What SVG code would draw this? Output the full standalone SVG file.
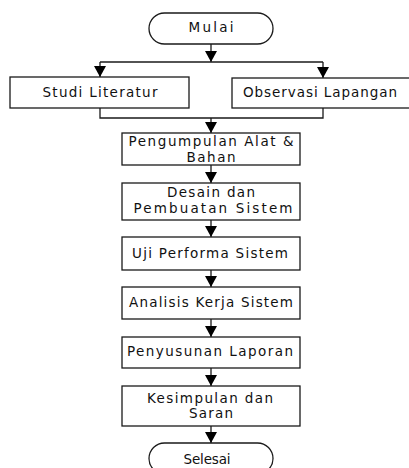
<svg xmlns="http://www.w3.org/2000/svg" width="409" height="468" viewBox="0 0 409 468">
<style>
.box{fill:#fff;stroke:#1a1a1a;stroke-width:1.3}
.ln{fill:none;stroke:#1a1a1a;stroke-width:1.3}
text{font-family:"DejaVu Sans","Liberation Sans",sans-serif;font-size:13.5px;fill:#111;text-anchor:middle}
</style>
<defs>
<marker id="ah" markerUnits="userSpaceOnUse" markerWidth="12" markerHeight="12" viewBox="0 0 10 11" refX="10" refY="5.5" orient="auto">
<path d="M0,0 L10,5.5 L0,11 z" fill="#000"/>
</marker>
</defs>
<rect width="409" height="468" fill="#fff"/>
<g id="connectors">
<path class="ln" d="M211,44 V62" marker-end="url(#ah)"/>
<path class="ln" d="M100,62 H323"/>
<path class="ln" d="M100,62 V77" marker-end="url(#ah)"/>
<path class="ln" d="M323,62 V78" marker-end="url(#ah)"/>
<path class="ln" d="M100,108 V118 H323 V108"/>
<path class="ln" d="M211,118 V133" marker-end="url(#ah)"/>
<path class="ln" d="M211,165 V183" marker-end="url(#ah)"/>
<path class="ln" d="M211,220 V237" marker-end="url(#ah)"/>
<path class="ln" d="M211,270 V287" marker-end="url(#ah)"/>
<path class="ln" d="M211,319 V337" marker-end="url(#ah)"/>
<path class="ln" d="M211,368 V386" marker-end="url(#ah)"/>
<path class="ln" d="M211,426 V443" marker-end="url(#ah)"/>
</g>
<g id="mulai">
<rect class="box" x="149" y="13" width="124" height="31" rx="15.5" ry="15.5"/>
<text x="211" y="32" textLength="45" lengthAdjust="spacing">Mulai</text>
</g>
<g id="studi">
<rect class="box" x="10" y="77" width="179" height="31"/>
<text x="100" y="97" textLength="115" lengthAdjust="spacing">Studi Literatur</text>
</g>
<g id="observasi">
<rect class="box" x="232" y="78" width="182" height="30"/>
<text x="320" y="97" textLength="154" lengthAdjust="spacing">Observasi Lapangan</text>
</g>
<g id="pengumpulan">
<rect class="box" x="122" y="133" width="178" height="32"/>
<text x="211" y="146" textLength="165" lengthAdjust="spacing">Pengumpulan Alat &amp;</text>
<text x="211" y="162" textLength="49" lengthAdjust="spacing">Bahan</text>
</g>
<g id="desain">
<rect class="box" x="122" y="183" width="178" height="37"/>
<text x="211" y="197" textLength="88" lengthAdjust="spacing">Desain dan</text>
<text x="213" y="213" textLength="159" lengthAdjust="spacing">Pembuatan Sistem</text>
</g>
<g id="uji">
<rect class="box" x="122" y="237" width="178" height="33"/>
<text x="210" y="258" textLength="156" lengthAdjust="spacing">Uji Performa Sistem</text>
</g>
<g id="analisis">
<rect class="box" x="122" y="287" width="178" height="32"/>
<text x="211" y="307" textLength="164" lengthAdjust="spacing">Analisis Kerja Sistem</text>
</g>
<g id="penyusunan">
<rect class="box" x="122" y="337" width="178" height="31"/>
<text x="210" y="356" textLength="166" lengthAdjust="spacing">Penyusunan Laporan</text>
</g>
<g id="kesimpulan">
<rect class="box" x="122" y="386" width="178" height="40"/>
<text x="210" y="403" textLength="126" lengthAdjust="spacing">Kesimpulan dan</text>
<text x="211" y="418" textLength="44" lengthAdjust="spacing">Saran</text>
</g>
<g id="selesai">
<rect class="box" x="149" y="443" width="124" height="31" rx="15.5" ry="15.5"/>
<text x="207" y="464" textLength="47" lengthAdjust="spacing">Selesai</text>
</g>
</svg>
